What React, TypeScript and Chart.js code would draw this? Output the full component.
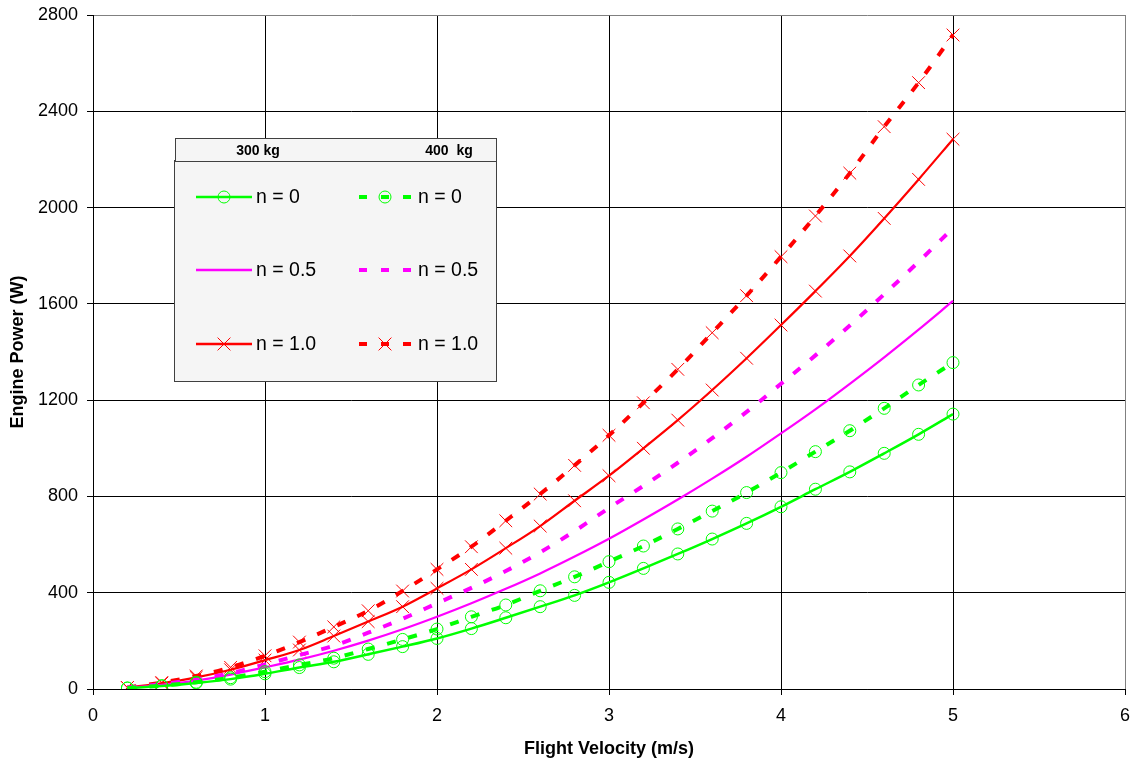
import React, { useEffect, useRef } from 'react';
import { Chart, registerables } from 'chart.js';

Chart.register(...registerables);

const FONT = "'Liberation Sans', Arial, sans-serif";

const velocities = [0.2, 0.4, 0.6, 0.8, 1.0, 1.2, 1.4, 1.6, 1.8, 2.0, 2.2, 2.4, 2.6, 2.8, 3.0, 3.2, 3.4, 3.6, 3.8, 4.0, 4.2, 4.4, 4.6, 4.8, 5.0];

// 300 kg
const green300 = [4, 12, 25, 41, 63, 89, 113, 144, 176, 210, 251, 296, 342, 389, 443, 501, 561, 623, 688, 757, 830, 902, 979, 1058, 1142];
const magenta300 = [5, 17, 35, 60, 90, 122, 159, 201, 248, 300, 356, 416, 480, 550, 624, 704, 787, 874, 965, 1062, 1162, 1268, 1378, 1493, 1612];
const red300 = [6, 24, 48, 80, 120, 162, 220, 280, 342, 418, 497, 585, 677, 782, 886, 1000, 1117, 1242, 1374, 1512, 1653, 1799, 1955, 2117, 2284];

// 400 kg
const green400 = [4, 14, 28, 47, 72, 100, 128, 166, 206, 249, 300, 349, 408, 466, 529, 594, 665, 739, 816, 899, 986, 1073, 1166, 1263, 1356];
const magenta400 = [6, 20, 40, 66, 102, 141, 180, 234, 292, 356, 420, 490, 568, 656, 752, 844, 940, 1042, 1151, 1268, 1386, 1510, 1640, 1775, 1915];
const red400 = [6, 27, 54, 90, 138, 195, 258, 325, 407, 497, 591, 699, 810, 929, 1054, 1189, 1328, 1480, 1634, 1796, 1965, 2143, 2336, 2519, 2717];

const legendHeaders = ['300 kg', '400  kg'];
const legendLabels = ['n = 0', 'n = 0.5', 'n = 1.0'];

const GREEN = '#00FF00';
const MAGENTA = '#FF00FF';
const RED = '#FF0000';

const toPts = (ys: number[]) => ys.map((y, i) => ({ x: velocities[i], y }));

const legendPlugin = {
  id: 'boxLegend',
  afterDraw(chart: any) {
    const ctx: CanvasRenderingContext2D = chart.ctx;
    ctx.save();
    ctx.fillStyle = '#F5F5F5';
    ctx.strokeStyle = '#404040';
    ctx.lineWidth = 1;
    ctx.fillRect(174.5, 160.5, 322, 221);
    ctx.strokeRect(174.5, 160.5, 322, 221);
    ctx.fillRect(175.5, 138.5, 321, 23);
    ctx.strokeRect(175.5, 138.5, 321, 23);
    ctx.fillStyle = '#000';
    ctx.font = `bold 14px ${FONT}`;
    ctx.textAlign = 'center';
    ctx.textBaseline = 'middle';
    ctx.fillText(legendHeaders[0], 258, 151);
    ctx.fillText(legendHeaders[1], 449, 151);

    const rows = [197, 270, 344];
    const colors = [GREEN, MAGENTA, RED];
    const markers = ['circle', 'none', 'cross'];
    const cols = [
      { x0: 196, x1: 252, tx: 256, dashed: false },
      { x0: 359, x1: 411, tx: 418, dashed: true },
    ];
    ctx.font = `19.5px ${FONT}`;
    ctx.textAlign = 'left';
    rows.forEach((y, r) => {
      cols.forEach((c) => {
        ctx.strokeStyle = colors[r];
        if (c.dashed) {
          ctx.lineWidth = 4;
          ctx.setLineDash([8, 14]);
        } else {
          ctx.lineWidth = 2.5;
          ctx.setLineDash([]);
        }
        ctx.beginPath();
        ctx.moveTo(c.x0, y);
        ctx.lineTo(c.x1, y);
        ctx.stroke();
        ctx.setLineDash([]);
        const mx = (c.x0 + c.x1) / 2;
        ctx.lineWidth = 1;
        if (markers[r] === 'circle') {
          ctx.beginPath();
          ctx.arc(mx, y, 6, 0, Math.PI * 2);
          ctx.stroke();
        } else if (markers[r] === 'cross') {
          const d = 6.4;
          ctx.beginPath();
          ctx.moveTo(mx - d, y - d);
          ctx.lineTo(mx + d, y + d);
          ctx.moveTo(mx - d, y + d);
          ctx.lineTo(mx + d, y - d);
          ctx.stroke();
        }
        ctx.fillStyle = '#000';
        ctx.fillText(legendLabels[r], c.tx, y + 1);
      });
    });
    ctx.restore();
  },
};

export default function App() {
  const canvasRef = useRef<HTMLCanvasElement | null>(null);

  useEffect(() => {
    const canvas = canvasRef.current;
    if (!canvas) return;
    const gridColor = (max: number) => (c: any) => (c.tick && c.tick.value === max ? '#808080' : '#000000');
    const series = (data: number[], color: string, width: number, point: any) => ({
      data: toPts(data),
      borderColor: color,
      borderWidth: width,
      backgroundColor: color,
      cubicInterpolationMode: 'monotone',
      fill: false,
      ...point,
    });
    const circle = { pointStyle: 'circle', pointRadius: 6, pointBorderWidth: 1, pointBorderColor: GREEN, pointBackgroundColor: 'rgba(0,0,0,0)' };
    const cross = { pointStyle: 'crossRot', pointRadius: 9, pointBorderWidth: 1, pointBorderColor: RED, pointBackgroundColor: RED };
    const none = { pointRadius: 0 };
    const dash = { borderDash: [9, 13] };

    const chart = new Chart(canvas, {
      type: 'line',
      data: {
        datasets: [
          { label: 'n = 0 (300 kg)', ...series(green300, GREEN, 2.5, circle) },
          { label: 'n = 0 (400 kg)', ...series(green400, GREEN, 4, circle), ...dash },
          { label: 'n = 0.5 (300 kg)', ...series(magenta300, MAGENTA, 2.2, none) },
          { label: 'n = 0.5 (400 kg)', ...series(magenta400, MAGENTA, 4, none), ...dash },
          { label: 'n = 1.0 (300 kg)', ...series(red300, RED, 2.2, cross) },
          { label: 'n = 1.0 (400 kg)', ...series(red400, RED, 4, cross), ...dash },
        ] as any,
      },
      options: {
        animation: false,
        responsive: true,
        maintainAspectRatio: false,
        layout: { padding: { left: 0, right: 5, top: 15, bottom: 0 } },
        plugins: { legend: { display: false }, tooltip: { enabled: false } },
        scales: {
          x: {
            type: 'linear',
            min: 0,
            max: 6,
            ticks: { stepSize: 1, color: '#000', font: { family: FONT, size: 18 }, padding: 10, callback: (v: any) => String(v) },
            grid: { color: gridColor(6), lineWidth: 1, tickLength: 6, tickColor: '#000' },
            border: { color: '#000', width: 1 },
            title: {
              display: true,
              text: 'Flight Velocity (m/s)',
              color: '#000',
              font: { family: FONT, size: 18, weight: 'bold' },
              padding: { top: 0, bottom: 1 },
            },
            afterFit: (s: any) => {
              s.height = 72;
              s.paddingLeft = 0;
              s.paddingRight = 0;
            },
          },
          y: {
            type: 'linear',
            min: 0,
            max: 2800,
            ticks: { stepSize: 400, color: '#000', font: { family: FONT, size: 18 }, padding: 9, callback: (v: any) => String(v) },
            grid: { color: gridColor(2800), lineWidth: 1, tickLength: 6, tickColor: '#000' },
            border: { color: '#000', width: 1 },
            title: {
              display: true,
              text: 'Engine Power (W)',
              color: '#000',
              font: { family: FONT, size: 18, weight: 'bold' },
              padding: { top: 7, bottom: 0 },
            },
            afterFit: (s: any) => {
              s.width = 93;
              s.paddingTop = 0;
              s.paddingBottom = 0;
            },
          },
        },
      } as any,
      plugins: [legendPlugin],
    });
    return () => chart.destroy();
  }, []);

  return (
    <div style={{ position: 'fixed', left: 0, top: 0, width: 1135, height: 761, background: '#fff' }}>
      <canvas ref={canvasRef} />
    </div>
  );
}
